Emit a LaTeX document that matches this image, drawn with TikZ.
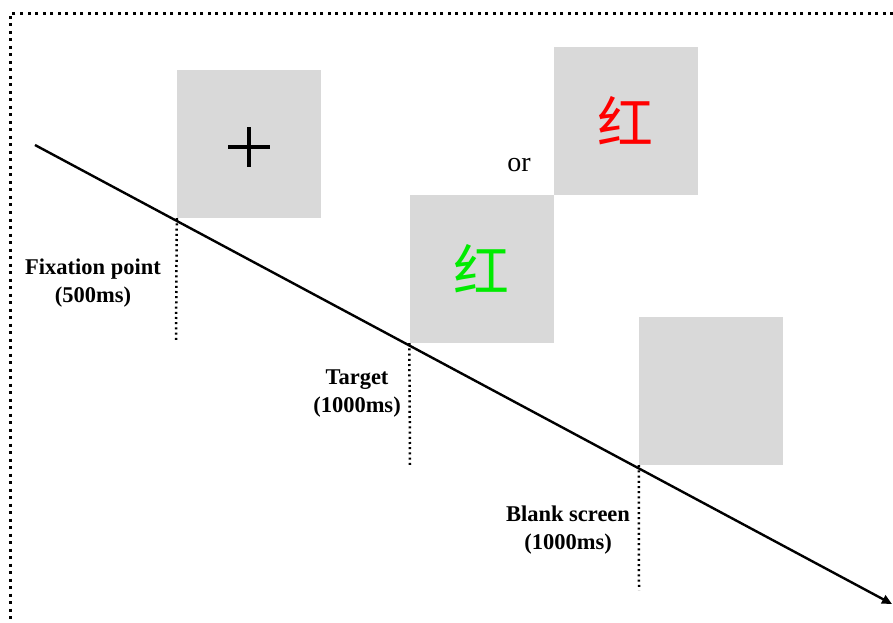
\documentclass[tikz,border=0pt]{standalone}
\usepackage{fontspec}
\setmainfont{Liberation Serif}
\newfontfamily\cjk{Noto Sans CJK SC}
\usetikzlibrary{positioning,arrows.meta}
\definecolor{screengray}{RGB}{217,217,217}
\definecolor{wordgreen}{RGB}{0,235,0}
\tikzset{
  screen/.style={fill=screengray, minimum width=144pt, minimum height=148pt, inner sep=0pt},
  tick/.style={line width=2.5pt, dash pattern=on 2pt off 3.2pt},
  lbl/.style={font=\bfseries\fontsize{22.5}{28}\selectfont, align=center},
  word/.style={font=\cjk\fontsize{56}{56}\selectfont},
}
\begin{document}
\begin{tikzpicture}[x=1pt,y=1pt]
    \useasboundingbox (0,0) rectangle (893,622);
    \draw[line width=3pt, dash pattern=on 3pt off 4.5pt](893,608)--(10,608)--(10,0);
    \node[screen] (fix) at (249,478) {};
    \node[screen] (green) at (481.5,353) {};
    \node[screen, above right=0pt of green] (red) {};
    \node[screen] (blank) at (711,231) {};
    \draw[line width=4.5pt]([xshift=-21pt,yshift=-3pt]fix.center)--([xshift=21pt,yshift=-3pt]fix.center);
    \draw[line width=4.5pt]([yshift=-23pt]fix.center)--([yshift=17pt]fix.center);
    \node[word, text=wordgreen] (greenword) at (green) {红};
    \node[word, text=red] (redword) at (red) {红};
    \node[font=\fontsize{28}{28}\selectfont] (or) at (519,457) {or};
    \coordinate (start) at (35,477);
    \coordinate (end) at (892,18);
    \draw[line width=2.4pt, -{Triangle[length=10pt,width=9pt]}](start)--(end);
    \coordinate (fixend) at (176,281);
    \coordinate (greenend) at (410,156);
    \coordinate (blankend) at (639,32);
    \draw[tick](fix.south west)--(fixend);
    \draw[tick](green.south west)--(greenend);
    \draw[tick](blank.south west)--(blankend);
    \node[lbl] (fixlbl) at (93,339) {Fixation point\\(500ms)};
    \node[lbl] (greenlbl) at (357,228.5) {Target\\(1000ms)};
    \node[lbl] (blanklbl) at (568,92) {Blank screen\\(1000ms)};
\end{tikzpicture}
\end{document}
